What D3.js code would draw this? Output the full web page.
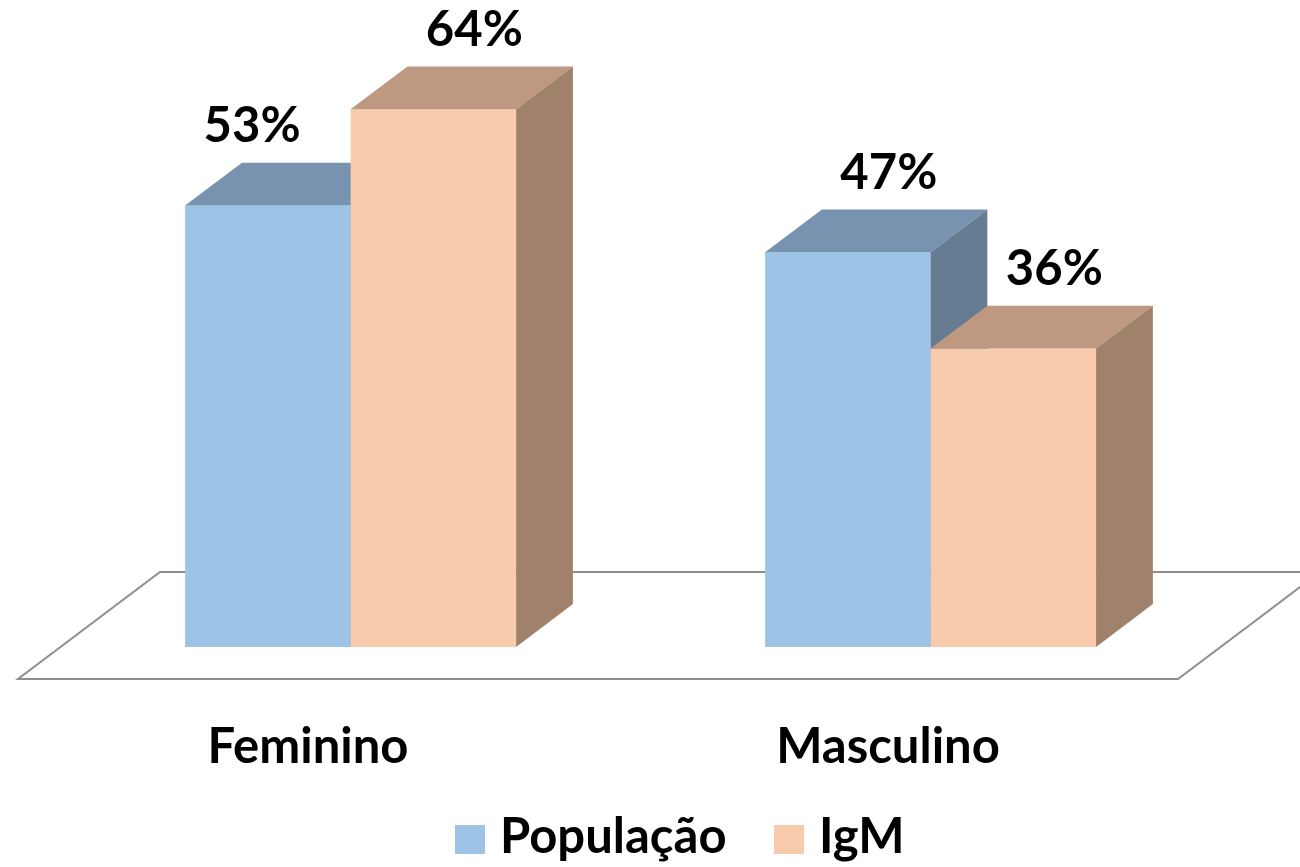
<!DOCTYPE html>
<html>
<head>
<meta charset="utf-8">
<script src="https://cdn.jsdelivr.net/npm/d3@7"></script>
<style>
  html, body { margin: 0; padding: 0; background: #ffffff; }
  svg { display: block; }
  text { font-family: Lato, "Open Sans", "DejaVu Sans", sans-serif; font-weight: 700; fill: #000; }
</style>
</head>
<body>
<svg id="chart" width="1300" height="867"></svg>
<script>
// ---- data ----
const categories = ["Feminino", "Masculino"];
const seriesNames = ["População", "IgM"];
const populacao = [52.8, 47.2];
const igm = [64.3, 35.7];
const seriesValues = [populacao, igm];

// colours per series: front, top, side
const seriesColors = [
  { front: "#9DC3E6", top: "#7793B0", side: "#657C93" },
  { front: "#F7CBAC", top: "#BE9881", side: "#A0816C" }
];

const W = 1300, H = 867;
const svg = d3.select("#chart");

// floor geometry (3D projection)
const floorFrontY = 679, floorBackY = 572;
const floorLeft = 18, floorRight = 1178;
const depthDX = 142, depthDY = floorBackY - floorFrontY;
const barDepthStart = 0.3, barDepthEnd = 0.7;

const xFloor = d3.scaleBand().domain(categories).range([floorLeft, floorRight]);
const shiftX = depthDX * barDepthStart, shiftY = depthDY * barDepthStart;
const x0 = d3.scaleBand().domain(categories)
  .range([floorLeft + shiftX, floorRight + shiftX])
  .paddingInner(0.4293).paddingOuter(0.2147);
const x1 = d3.scaleBand().domain(seriesNames).range([0, x0.bandwidth()]);

const baseY = floorFrontY + shiftY;
const y = d3.scaleLinear().domain([0, 70]).range([baseY, baseY - 70 * 8.36]);

const bdx = depthDX * (barDepthEnd - barDepthStart);
const bdy = depthDY * (barDepthEnd - barDepthStart);

// floor
const floorPts = [
  [floorLeft, floorFrontY],
  [floorRight, floorFrontY],
  [floorRight + depthDX, floorBackY],
  [floorLeft + depthDX, floorBackY]
];
svg.append("path")
  .attr("d", d3.line()(floorPts) + "Z")
  .attr("fill", "#ffffff")
  .attr("stroke", "#8E8E8E")
  .attr("stroke-width", 2);

// bars
const bars = [];
categories.forEach((c, ci) => {
  seriesNames.forEach((s, si) => {
    bars.push({ c, ci, s, si, v: seriesValues[si][ci] });
  });
});

const g = svg.append("g");
bars.forEach(b => {
  const xl = x0(b.c) + x1(b.s);
  const xr = xl + x1.bandwidth();
  const yt = y(b.v), yb = y(0);
  const col = seriesColors[b.si];
  const grp = g.append("g");
  grp.append("path")
    .attr("d", d3.line()([[xl, yb], [xr, yb], [xr, yt], [xl, yt]]) + "Z")
    .attr("fill", col.front);
  grp.append("path")
    .attr("d", d3.line()([[xl, yt], [xr, yt], [xr + bdx, yt + bdy], [xl + bdx, yt + bdy]]) + "Z")
    .attr("fill", col.top);
  grp.append("path")
    .attr("d", d3.line()([[xr, yb], [xr + bdx, yb + bdy], [xr + bdx, yt + bdy], [xr, yt]]) + "Z")
    .attr("fill", col.side);
  b.xl = xl; b.xr = xr; b.yt = yt;
});

// value labels
const labelFont = 49;
bars.forEach((b, i) => {
  let cx = (b.xl + b.xr) / 2 + 41;
  const t = svg.append("text")
    .attr("font-size", labelFont)
    .attr("text-anchor", "middle")
    .attr("y", b.yt - 63)
    .text(Math.round(b.v) + "%");
  const w = t.node().getComputedTextLength();
  const next = bars[i + 1];
  if (next && next.ci === b.ci && next.yt < b.yt - 63 && cx + w / 2 > next.xl) {
    cx = next.xl - 50 - w / 2;
  }
  t.attr("x", cx);
});

// category labels on floor front edge
svg.selectAll(".cat").data(categories).enter().append("text")
  .attr("class", "cat")
  .attr("font-size", labelFont)
  .attr("text-anchor", "middle")
  .attr("x", d => xFloor(d) + xFloor.bandwidth() / 2)
  .attr("y", 763)
  .text(d => d);

// legend
const legendItems = [
  { name: seriesNames[0], x: 455 },
  { name: seriesNames[1], x: 774 }
];
legendItems.forEach((it, i) => {
  svg.append("rect")
    .attr("x", it.x).attr("y", 825)
    .attr("width", 30).attr("height", 29)
    .attr("fill", seriesColors[i].front);
  svg.append("text")
    .attr("font-size", labelFont)
    .attr("x", it.x + 45)
    .attr("y", 853)
    .text(it.name);
});
</script>
</body>
</html>
